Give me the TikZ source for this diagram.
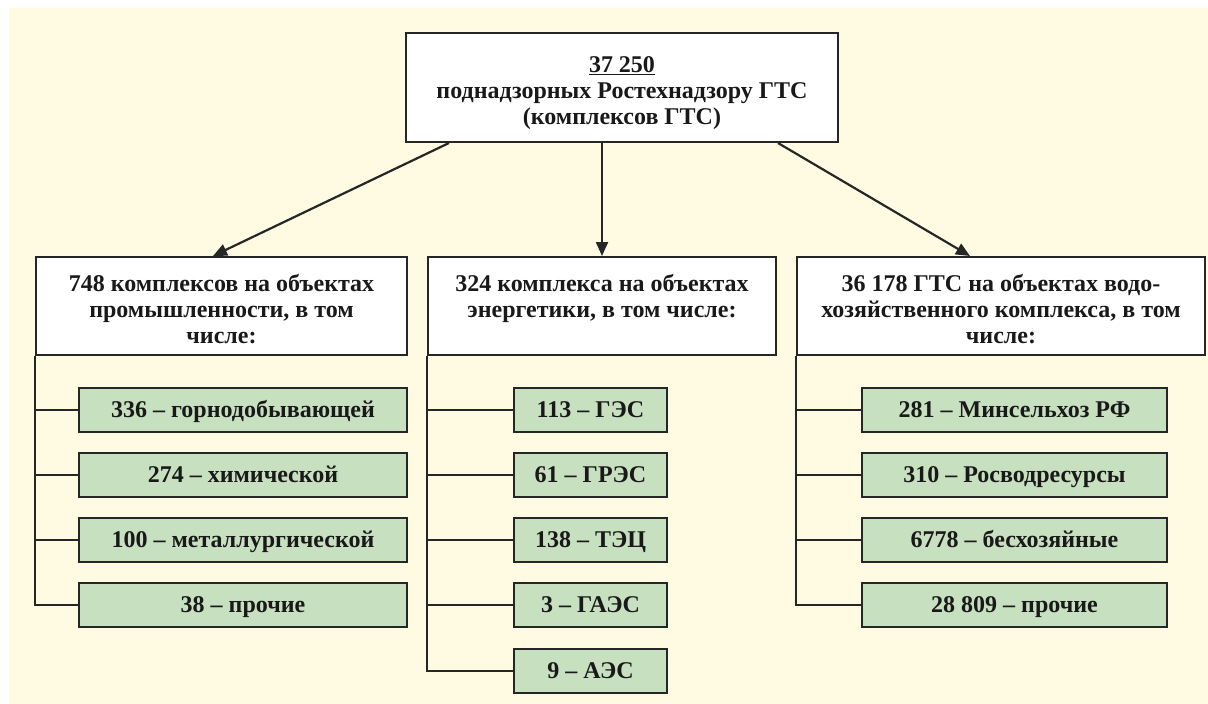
\documentclass[tikz,border=0pt]{standalone}
\usepackage{fontspec}
\setmainfont{Liberation Serif}
\usetikzlibrary{positioning,arrows.meta}
\definecolor{bgbeige}{RGB}{254,251,226}
\definecolor{boxgreen}{RGB}{199,224,192}
\definecolor{linegray}{RGB}{38,38,38}

\begin{document}
\begin{tikzpicture}[x=1pt,y=-1pt,
  every node/.style={font=\fontsize{24}{26}\selectfont\bfseries, text=black!90},
  headbox/.style={draw=linegray, line width=2pt, fill=white, shape=rectangle, minimum height=98pt},
  itembox/.style={draw=linegray, line width=2pt, fill=boxgreen, shape=rectangle, minimum height=44pt,
    inner ysep=0pt, text height=19pt, text depth=5pt},
  indbox/.style={itembox, minimum width=328pt},
  enbox/.style={itembox, minimum width=153pt},
  watbox/.style={itembox, minimum width=305pt},
  link/.style={draw=linegray, line width=2.2pt},
  arr/.style={link, -{Triangle[length=14pt,width=12pt]}}]
\useasboundingbox (0,0) rectangle (1208,704);
\fill[bgbeige] (9,8) rectangle (1208,704);

% root
\node[headbox, minimum width=432pt, minimum height=109pt] (root) at (622,87.5) {};
\node[below=21pt of root.north, align=center] (roottxt)
  {\underline{37 250}\\поднадзорных Ростехнадзору ГТС\\(комплексов ГТС)};

% headers
\node[headbox, minimum width=371pt] (ind) at (221.5,306) {};
\node[below=15pt of ind.north, align=center] (indtxt) {748 комплексов на объектах\\промышленности, в том\\числе:};
\node[headbox, minimum width=348pt] (en) at (602,306) {};
\node[below=15pt of en.north, align=center] (entxt) {324 комплекса на объектах\\энергетики, в том числе:};
\node[headbox, minimum width=408pt] (wat) at (1001,306) {};
\node[below=15pt of wat.north, align=center] (wattxt) {36 178 ГТС на объектах водо-\\хозяйственного комплекса, в том\\числе:};

% industry
\node[indbox] (ind1) at (243,410) {336 – горнодобывающей};
\node[indbox] (ind2) at (243,475) {274 – химической};
\node[indbox] (ind3) at (243,540) {100 – металлургической};
\node[indbox] (ind4) at (243,605) {38 – прочие};

% energy
\node[enbox] (en1) at (590.5,410) {113 – ГЭС};
\node[enbox] (en2) at (590.5,475) {61 – ГРЭС};
\node[enbox] (en3) at (590.5,540) {138 – ТЭЦ};
\node[enbox] (en4) at (590.5,605) {3 – ГАЭС};
\node[enbox] (en5) at (590.5,671) {9 – АЭС};

% water
\node[watbox] (wat1) at (1014.5,410) {281 – Минсельхоз РФ};
\node[watbox] (wat2) at (1014.5,475) {310 – Росводресурсы};
\node[watbox] (wat3) at (1014.5,540) {6778 – бесхозяйные};
\node[watbox] (wat4) at (1014.5,605) {28 809 – прочие};

% arrows
\draw[arr] ([xshift=44pt]root.south west) -- ([xshift=-8.5pt]ind.north);
\draw[arr] ([xshift=-20pt]root.south) -- (en.north);
\draw[arr] ([xshift=-61pt]root.south east) -- ([xshift=-31pt]wat.north);

% branches
\draw[link] (ind.south west) |- (ind4.west);
\draw[link] (ind.south west |- ind1.west) -- (ind1.west);
\draw[link] (ind.south west |- ind2.west) -- (ind2.west);
\draw[link] (ind.south west |- ind3.west) -- (ind3.west);
\draw[link] (en.south west) |- (en5.west);
\draw[link] (en.south west |- en1.west) -- (en1.west);
\draw[link] (en.south west |- en2.west) -- (en2.west);
\draw[link] (en.south west |- en3.west) -- (en3.west);
\draw[link] (en.south west |- en4.west) -- (en4.west);
\draw[link] (wat.south west) |- (wat4.west);
\draw[link] (wat.south west |- wat1.west) -- (wat1.west);
\draw[link] (wat.south west |- wat2.west) -- (wat2.west);
\draw[link] (wat.south west |- wat3.west) -- (wat3.west);
\end{tikzpicture}
\end{document}
